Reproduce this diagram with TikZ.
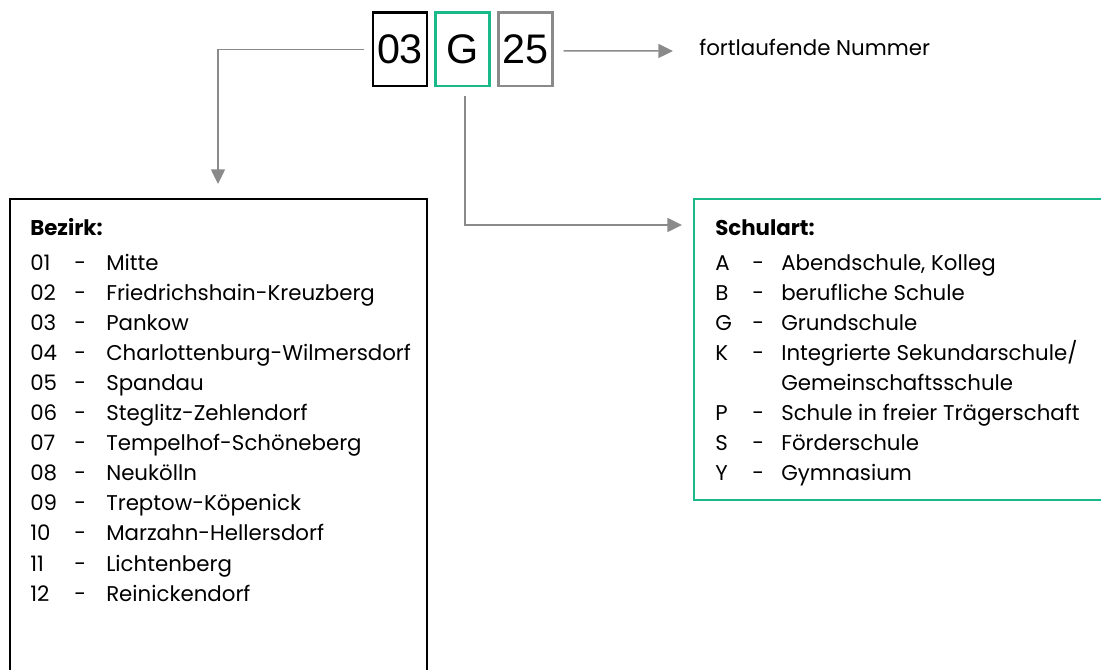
\documentclass[tikz,border=0pt]{standalone}
\usepackage{fontspec}
\setmainfont{Poppins}
\newfontfamily\kennfont{Liberation Sans}
\usetikzlibrary{positioning,arrows.meta}
\definecolor{schulgruen}{HTML}{19B98A}
\definecolor{pfeilgrau}{HTML}{8A8A8A}

\tikzset{
  kennbox/.style={draw, line width=2pt, minimum width=40.5pt, minimum height=55pt,
    inner sep=0pt, font=\kennfont\fontsize{31}{31}\selectfont},
  pfeil/.style={draw=pfeilgrau, line width=1.1pt,
    -{Triangle[length=11pt, width=10.5pt, fill=pfeilgrau]}},
  listbox/.style={draw, line width=1.4pt, anchor=north west, inner sep=0pt},
  eintrag/.style={anchor=base west, inner sep=0pt, font=\fontsize{16}{16}\selectfont}
}

\begin{document}
\begin{tikzpicture}[x=0.75pt, y=-0.75pt]
        \useasboundingbox (0,0) rectangle (1101,670);
        % Kennung
        \node[kennbox, draw=black] (nr03) at (400,49.5) {03};
        \node[kennbox, draw=schulgruen, right=4.5pt of nr03] (nrG) {G};
        \node[kennbox, draw=pfeilgrau, right=4.5pt of nrG] (nr25) {25};
        \node[eintrag] (nummer) at (699,56) {fortlaufende Nummer};

        % Kaesten
        \node[listbox, minimum width=312.75pt, minimum height=375pt] (bezirkbox) at (9,198) {};
        \node[listbox, draw=schulgruen, minimum width=315pt, minimum height=226pt] (schulartbox) at (693,198) {};

        % Pfeile
        \coordinate (ziel1) at (218,184);
        \coordinate (start2) at (465,96);
        \coordinate (ziel2) at (682,225);
        \coordinate (ziel3) at (673,51);
        \draw[pfeil] ([xshift=-5.5pt]nr03.west) -| (ziel1);
        \draw[pfeil] (start2) |- (ziel2);
        \draw[pfeil] ([xshift=7.5pt, yshift=-1pt]nr25.east) -- (ziel3);

        % Bezirke
        \node[eintrag, font=\fontsize{16}{16}\selectfont\bfseries] (bezirk) at (30,236) {Bezirk:};
        \foreach \nr/\name [count=\i] in {01/Mitte, 02/Friedrichshain-Kreuzberg, 03/Pankow,
            04/Charlottenburg-Wilmersdorf, 05/Spandau, 06/Steglitz-Zehlendorf,
            07/Tempelhof-Schöneberg, 08/Neukölln, 09/Treptow-Köpenick,
            10/Marzahn-Hellersdorf, 11/Lichtenberg, 12/Reinickendorf}{%
                \node[eintrag] (bnr\i) at (30,{271+30*(\i-1)}) {\nr};
                \node[eintrag] (bstrich\i) at (74,{271+30*(\i-1)}) {-};
                \node[eintrag] (bname\i) at (106,{271+30*(\i-1)}) {\name};
            }

        % Schularten
        \node[eintrag, font=\fontsize{16}{16}\selectfont\bfseries] (schulart) at (715,236) {Schulart:};
        \foreach \kz/\name/\zeile in {A/{Abendschule, Kolleg}/1, B/berufliche Schule/2,
            G/Grundschule/3, K/{Integrierte Sekundarschule/}/4, P/Schule in freier Trägerschaft/6,
            S/Förderschule/7, Y/Gymnasium/8}{%
                \node[eintrag] (skz\zeile) at (715,{271+30*(\zeile-1)}) {\kz};
                \node[eintrag] (sstrich\zeile) at (752,{271+30*(\zeile-1)}) {-};
                \node[eintrag] (sname\zeile) at (781,{271+30*(\zeile-1)}) {\name};
            }
        \node[eintrag] (sname5) at (781,{271+30*4}) {Gemeinschaftsschule};
    \end{tikzpicture}
\end{document}
